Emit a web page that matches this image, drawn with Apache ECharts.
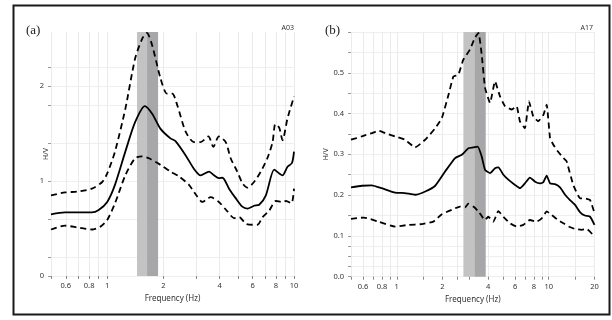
<!DOCTYPE html>
<html>
<head>
<meta charset="utf-8">
<script src="https://cdn.jsdelivr.net/npm/echarts@6/dist/echarts.min.js"></script>
<style>
  html, body { margin: 0; padding: 0; background: #fff; }
  #chart { width: 612px; height: 320px; }
</style>
</head>
<body>
<div id="chart"></div>
<script>
// panel (a) - station A03
const freqAMean = [0.5, 0.594, 0.70, 0.827, 0.90, 1.0, 1.10, 1.25, 1.41, 1.59, 1.74, 1.93, 2.18, 2.32, 2.63, 2.91, 3.16, 3.51, 3.73, 3.96, 4.14, 4.49, 4.87, 5.29, 5.63, 6.11, 6.51, 7.07, 7.83, 8.34, 8.68, 9.23, 9.75, 10.0];
const hvAMean = [0.65, 0.67, 0.67, 0.67, 0.695, 0.78, 0.96, 1.31, 1.62, 1.79, 1.71, 1.55, 1.45, 1.42, 1.27, 1.13, 1.06, 1.10, 1.06, 1.03, 1.035, 0.92, 0.82, 0.73, 0.71, 0.74, 0.75, 0.85, 1.12, 1.08, 1.06, 1.15, 1.19, 1.31];
const freqAUpper = [0.5, 0.594, 0.70, 0.827, 0.94, 1.0, 1.10, 1.25, 1.41, 1.54, 1.63, 1.74, 1.93, 2.09, 2.23, 2.37, 2.63, 2.91, 3.16, 3.48, 3.70, 3.96, 4.31, 4.58, 4.97, 5.29, 5.63, 6.11, 6.64, 7.20, 7.68, 7.94, 8.34, 8.68, 9.23, 10.0];
const hvAUpper = [0.85, 0.88, 0.89, 0.92, 0.99, 1.08, 1.31, 1.76, 2.29, 2.50, 2.56, 2.43, 2.08, 1.92, 1.92, 1.80, 1.52, 1.41, 1.41, 1.47, 1.36, 1.47, 1.41, 1.24, 1.10, 0.98, 0.93, 0.99, 1.10, 1.24, 1.41, 1.60, 1.56, 1.43, 1.66, 1.89];
const freqALower = [0.5, 0.594, 0.70, 0.827, 0.92, 1.0, 1.10, 1.25, 1.41, 1.54, 1.67, 1.93, 2.18, 2.42, 2.74, 3.0, 3.23, 3.58, 3.96, 4.40, 4.78, 5.09, 5.52, 6.00, 6.38, 6.79, 7.37, 7.99, 8.68, 9.05, 9.69, 10.0];
const hvALower = [0.49, 0.53, 0.51, 0.49, 0.52, 0.59, 0.765, 1.06, 1.24, 1.26, 1.24, 1.17, 1.10, 1.05, 0.96, 0.85, 0.78, 0.83, 0.78, 0.68, 0.61, 0.62, 0.55, 0.54, 0.54, 0.62, 0.69, 0.79, 0.78, 0.79, 0.765, 0.92];
const bandA = [1.444, 1.634, 1.872];

// panel (b) - station A17
const freqBMean = [0.5, 0.589, 0.685, 0.797, 0.975, 1.13, 1.32, 1.54, 1.79, 2.08, 2.42, 2.68, 2.96, 3.19, 3.41, 3.62, 3.81, 4.11, 4.43, 4.66, 5.03, 5.42, 6.0, 6.46, 6.97, 7.52, 8.13, 8.77, 9.22, 9.69, 10.2, 10.99, 11.86, 12.8, 13.8, 14.9, 16.1, 17.3, 18.7, 20];
const hvBMean = [0.219, 0.223, 0.224, 0.217, 0.206, 0.205, 0.201, 0.209, 0.223, 0.258, 0.291, 0.299, 0.315, 0.317, 0.319, 0.295, 0.262, 0.254, 0.266, 0.268, 0.250, 0.238, 0.225, 0.217, 0.229, 0.243, 0.233, 0.229, 0.232, 0.248, 0.229, 0.227, 0.219, 0.201, 0.188, 0.176, 0.158, 0.150, 0.147, 0.127];
const freqBUpper = [0.5, 0.589, 0.685, 0.758, 0.84, 0.975, 1.13, 1.32, 1.54, 1.79, 1.98, 2.19, 2.36, 2.54, 2.74, 3.03, 3.27, 3.45, 3.62, 3.81, 4.11, 4.43, 4.78, 5.16, 5.71, 6.15, 6.46, 6.97, 7.41, 7.91, 8.52, 9.22, 9.69, 10.2, 10.7, 11.5, 12.5, 13.1, 14.5, 16.1, 17.3, 18.7, 20];
const hvBUpper = [0.336, 0.344, 0.352, 0.358, 0.352, 0.344, 0.336, 0.317, 0.336, 0.364, 0.389, 0.446, 0.491, 0.495, 0.532, 0.557, 0.586, 0.598, 0.545, 0.463, 0.426, 0.479, 0.442, 0.418, 0.410, 0.418, 0.381, 0.364, 0.430, 0.393, 0.381, 0.397, 0.422, 0.340, 0.324, 0.307, 0.291, 0.283, 0.225, 0.192, 0.192, 0.188, 0.156];
const freqBLower = [0.5, 0.607, 0.758, 0.975, 1.19, 1.46, 1.74, 1.98, 2.30, 2.61, 2.81, 2.96, 3.19, 3.45, 3.81, 4.00, 4.32, 4.66, 5.03, 5.56, 6.15, 6.80, 7.52, 8.33, 8.99, 9.69, 10.4, 11.5, 12.5, 13.5, 14.9, 16.5, 17.8, 20];
const hvBLower = [0.142, 0.145, 0.135, 0.123, 0.127, 0.129, 0.135, 0.153, 0.164, 0.172, 0.170, 0.179, 0.172, 0.160, 0.139, 0.147, 0.135, 0.161, 0.147, 0.131, 0.123, 0.127, 0.139, 0.135, 0.143, 0.160, 0.152, 0.139, 0.131, 0.123, 0.117, 0.115, 0.117, 0.098];
const bandB = [2.745, 3.24, 3.85];

// axis ticks / labels
const xTicksA = [0.5, 0.6, 0.7, 0.8, 0.9, 1, 2, 3, 4, 5, 6, 7, 8, 9, 10];
const xLabelsA = [0.6, 0.8, 1, 2, 4, 6, 8, 10];
const xTicksB = [0.5, 0.6, 0.7, 0.8, 0.9, 1, 1.5, 2, 2.5, 3, 4, 5, 6, 7, 8, 9, 10, 15, 20];
const xLabelsB = [0.6, 0.8, 1, 2, 4, 6, 8, 10, 20];
const yTicksA = [0, 0.2, 0.6, 1, 1.4, 1.8, 2, 2.2];
const yLabelsA = [0, 1, 2];
const yTicksB = [0, 0.025, 0.05, 0.075, 0.1, 0.15, 0.2, 0.25, 0.3, 0.35, 0.4, 0.45, 0.5, 0.55, 0.6];
const yLabelsB = [0, 0.1, 0.2, 0.3, 0.4, 0.5];

const txt = '#333';
const font = 'Noto Sans';

function pairs(xs, ys) {
	return xs.map((x, i) => [x, ys[i]]);
}

function xAxisOf(idx, max, ticks, labels) {
	return {
		type: 'log',
		logBase: 10,
		gridIndex: idx,
		min: 0.5,
		max,
		name: 'Frequency (Hz)',
		nameLocation: 'middle',
		nameGap: 19,
		nameTextStyle: { color: txt, fontSize: 8, fontFamily: font },
		axisLine: { show: false },
		axisTick: { show: true, customValues: ticks, length: 3, lineStyle: { color: '#888' } },
		axisLabel: { customValues: labels, color: txt, fontSize: 7.5, fontFamily: font, margin: 6 },
		splitLine: { show: true, lineStyle: { color: '#ebebeb', width: 1 } }
	};
}

function yAxisOf(idx, max, ticks, labels, fmt, gap) {
	return {
		type: 'value',
		gridIndex: idx,
		min: 0,
		max,
		name: 'H/V',
		nameLocation: 'middle',
		nameGap: gap,
		nameMoveOverlap: false,
		nameTextStyle: { color: txt, fontSize: 7, fontFamily: font },
		axisLine: { show: false },
		axisTick: { show: true, customValues: ticks, length: 3, lineStyle: { color: '#999' } },
		axisLabel: { customValues: labels, color: txt, fontSize: 7.5, fontFamily: font, margin: 7, formatter: fmt },
		splitLine: { show: true, lineStyle: { color: '#efefef', width: 1 } }
	};
}

function bandSeries(idx, band) {
	return {
		type: 'line',
		xAxisIndex: idx,
		yAxisIndex: idx,
		data: [],
		z: 1,
		silent: true,
		markArea: {
			silent: true,
			data: [
				[{ xAxis: band[0], itemStyle: { color: '#c3c3c3' } }, { xAxis: band[1] }],
				[{ xAxis: band[1], itemStyle: { color: '#a7a7a9' } }, { xAxis: band[2] }]
			]
		}
	};
}

function curve(idx, xs, ys, dashed, smooth) {
	return {
		type: 'line',
		xAxisIndex: idx,
		yAxisIndex: idx,
		data: pairs(xs, ys),
		showSymbol: false,
		smooth,
		z: 3,
		lineStyle: { color: '#000', width: 1.8, type: dashed ? [6, 4] : 'solid' }
	};
}

const chart = echarts.init(document.getElementById('chart'));
chart.setOption({
	backgroundColor: '#fff',
	animation: false,
	grid: [
		{ left: 51, top: 32, width: 243, height: 244 },
		{ left: 351, top: 32, width: 243.5, height: 244.7 }
	],
	xAxis: [
		xAxisOf(0, 10, xTicksA, xLabelsA),
		xAxisOf(1, 20, xTicksB, xLabelsB)
	],
	yAxis: [
		yAxisOf(0, 2.57, yTicksA, yLabelsA, (v) => String(v), 2),
		yAxisOf(1, 0.6, yTicksB, yLabelsB, (v) => v.toFixed(1), 22)
	],
	series: [
		bandSeries(0, bandA),
		curve(0, freqAUpper, hvAUpper, true, 0.25),
		curve(0, freqAMean, hvAMean, false, 0.25),
		curve(0, freqALower, hvALower, true, 0.25),
		bandSeries(1, bandB),
		curve(1, freqBUpper, hvBUpper, true, 0.12),
		curve(1, freqBMean, hvBMean, false, 0.15),
		curve(1, freqBLower, hvBLower, true, 0.15)
	],
	graphic: [
		{ type: 'rect', shape: { x: 13.5, y: 5.5, width: 596, height: 309 }, style: { fill: null, stroke: '#1a1a1a', lineWidth: 2 }, z: 10 },
		{ type: 'text', left: 26, top: 24, style: { text: '(a)', fill: '#222', font: '13px "Liberation Serif"' } },
		{ type: 'text', left: 325, top: 24, style: { text: '(b)', fill: '#222', font: '13px "Liberation Serif"' } },
		{ type: 'text', right: 318, top: 24, style: { text: 'A03', fill: txt, font: '7px "Noto Sans"' } },
		{ type: 'text', right: 19, top: 24, style: { text: 'A17', fill: txt, font: '7px "Noto Sans"' } }
	]
});
</script>
</body>
</html>
